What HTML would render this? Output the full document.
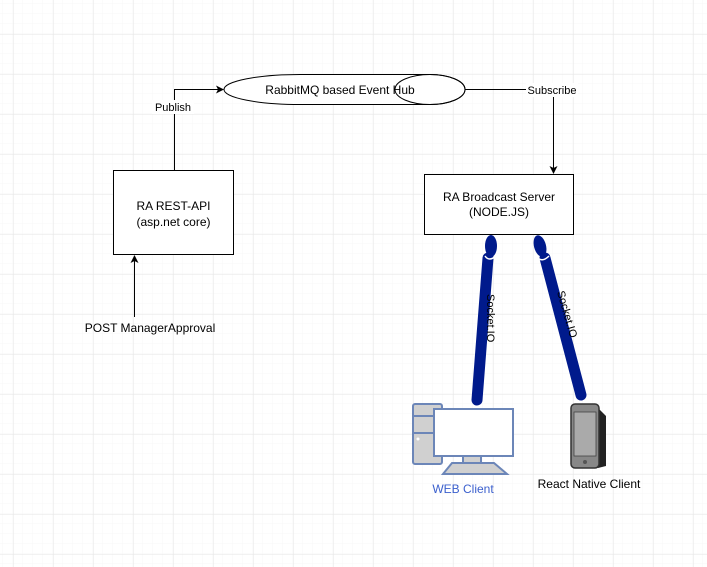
<!DOCTYPE html>
<html><head><meta charset="utf-8"><style>
html,body{margin:0;padding:0;background:#fff}
svg{display:block;font-family:"Liberation Sans",Arial,sans-serif}
</style></head><body>
<svg width="707" height="567" viewBox="0 0 707 567" xmlns="http://www.w3.org/2000/svg">
<defs>
<pattern id="minor" x="3" y="4" width="10" height="10" patternUnits="userSpaceOnUse">
<path d="M10 0V10M0 10H10" stroke="#f7f7f7" stroke-width="1" fill="none"/>
</pattern>
<pattern id="major" x="13.5" y="34.5" width="40" height="40" patternUnits="userSpaceOnUse">
<path d="M0 0V40M0 0H40" stroke="#e6e6e6" stroke-width="1" fill="none"/>
</pattern>
</defs>
<rect width="707" height="567" fill="url(#minor)"/>
<rect width="707" height="567" fill="url(#major)"/>

<!-- Event hub -->
<path d="M300 74.5 H430 A35 15 0 0 1 430 104.5 H300 A76 15 0 0 1 300 74.5Z" fill="#fff" stroke="#000" stroke-width="1"/>
<ellipse cx="430" cy="89.5" rx="35" ry="15" fill="none" stroke="#000"/>
<text x="340" y="94" font-size="12" text-anchor="middle">RabbitMQ based Event Hub</text>

<!-- Publish -->
<path d="M174.5 170 V89.5 H218" fill="none" stroke="#000"/>
<path d="M224 89.5 L216 85.5 L218 89.5 L216 93.5Z" fill="#000"/>
<rect x="152" y="100" width="42" height="14" fill="#fff"/>
<text x="173" y="111" font-size="11" text-anchor="middle">Publish</text>

<!-- Subscribe -->
<path d="M465 89.5 H553.5 V168" fill="none" stroke="#000"/>
<path d="M553.5 174 L549.5 166 L553.5 168 L557.5 166Z" fill="#000"/>
<rect x="526" y="83" width="52" height="14" fill="#fff"/>
<text x="552" y="94" font-size="11" text-anchor="middle">Subscribe</text>

<!-- REST box -->
<rect x="113.5" y="170.5" width="120" height="84" fill="#fff" stroke="#000"/>
<text x="173.5" y="210" font-size="12" text-anchor="middle">RA REST-API</text>
<text x="173.5" y="226" font-size="12" text-anchor="middle">(asp.net core)</text>

<!-- POST arrow -->
<path d="M134.5 317 V261" fill="none" stroke="#000"/>
<path d="M134.5 255 L130.5 263 L134.5 261 L138.5 263Z" fill="#000"/>
<text x="150" y="332" font-size="12" text-anchor="middle">POST ManagerApproval</text>

<!-- Broadcast box -->
<rect x="424.5" y="174.5" width="149" height="60" fill="#fff" stroke="#000"/>
<text x="499" y="201" font-size="12" text-anchor="middle">RA Broadcast Server</text>
<text x="499" y="216" font-size="12" text-anchor="middle">(NODE.JS)</text>

<!-- Socket lines -->
<g stroke="#001a8c" stroke-linecap="round" fill="none">
<line x1="488" y1="258" x2="477" y2="400" stroke-width="11"/>
<line x1="545" y1="258" x2="581" y2="395" stroke-width="11"/>
</g>
<ellipse cx="491" cy="246" rx="6" ry="11" fill="#001a8c"/>
<ellipse cx="540" cy="246" rx="6" ry="11" fill="#001a8c" transform="rotate(-15 540 246)"/>
<path d="M485 256 Q489 262 496 256" stroke="#fff" stroke-width="1.5" fill="none"/>
<path d="M537 257 Q542 263 549 256" stroke="#fff" stroke-width="1.5" fill="none"/>
<text x="0" y="0" font-size="11" fill="#000" transform="translate(487 294) rotate(90)">Socket.IO</text>
<text x="0" y="0" font-size="11" fill="#000" transform="translate(557 292) rotate(74)">Socket.IO</text>

<!-- Computer icon -->
<g stroke="#6c86b8" stroke-width="2">
<rect x="413" y="404" width="29" height="60" rx="2" fill="#d0d0d0"/>
<line x1="413" y1="416" x2="442" y2="416"/>
<line x1="413" y1="433" x2="442" y2="433"/>
<rect x="434" y="409" width="79" height="47" fill="#fff"/>
<rect x="463" y="456" width="18" height="7" fill="#d0d0d0"/>
<path d="M452 463 H494 L507 474 H443Z" fill="#d0d0d0"/>
</g>
<circle cx="418" cy="439" r="1.5" fill="#fff"/>

<!-- Phone icon -->
<path d="M577 404 L598 408 L606 416 L606 466 L598 468 L573 464 L571 410Z" fill="#222"/>
<rect x="571" y="404" width="28" height="64" rx="4" fill="#888" stroke="#333" stroke-width="1.5"/>
<rect x="574" y="412" width="22" height="44" fill="#aaa" stroke="#444" stroke-width="0.8"/>
<circle cx="585" cy="462" r="2" fill="#555"/>

<text x="463" y="493" font-size="12" fill="#3a5fcd" text-anchor="middle">WEB Client</text>
<text x="589" y="488" font-size="12" fill="#000" text-anchor="middle">React Native Client</text>
</svg>
</body></html>
